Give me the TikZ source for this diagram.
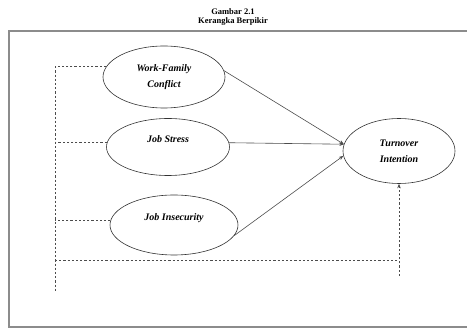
\documentclass[tikz,border=0pt]{standalone}
\usepackage{fontspec}
\setmainfont{Liberation Serif}
\usetikzlibrary{shapes.geometric,arrows.meta}

\begin{document}
\begin{tikzpicture}[x=1pt, y=-1pt,
    var/.style={shape=ellipse, draw=black!80, line width=0.6pt, align=center,
        font=\fontsize{10}{16}\selectfont\bfseries\itshape, inner sep=1pt},
    path/.style={draw=black!70, line width=0.6pt},
    dashpath/.style={draw=black!70, line width=0.7pt, dash pattern=on 2.2pt off 2pt},
    >={Stealth[length=4.5pt, width=3.5pt]}]
    \useasboundingbox (0,0) rectangle (467,328);

    % Frame of the page
    \draw[black!45, line width=1.6pt] (467,31) -- (9,31) -- (9,327) -- (467,327);

    % Title
    \node[font=\fontsize{8.5}{9}\selectfont\bfseries, inner sep=0pt] (title1) at (233,12) {Gambar 2.1};
    \node[font=\fontsize{8.5}{9}\selectfont\bfseries, inner sep=0pt] (title2) at (233,21) {Kerangka Berpikir};

    % Draw nodes
    \node[var, minimum width=122, minimum height=62] (wfc) at (164,77) {Work-Family\\Conflict};
    \node[var, minimum width=123, minimum height=57] (js) at (168,147) {Job Stress\\\mbox{}};
    \node[var, minimum width=128, minimum height=60] (ji) at (174,225) {Job Insecurity\\\mbox{}};
    \node[var, minimum width=112, minimum height=65] (to) at (399,151) {Turnover\\Intention};

    % Coordinates for the dashed paths
    \coordinate (dleft) at (55,292);
    \coordinate (dcorner) at (55,260);
    \coordinate (dright) at (399,276);

    % Draw edges
    \draw[path, ->] (wfc.6) -- (to.173);
    \draw[path, ->] (js.4) -- (to.173);
    \draw[path, ->] (ji.-10) -- (to.185);

    % Dashed paths
    \draw[dashpath] (wfc.170) -| (dleft);
    \draw[dashpath] (js.176) -- (js.176 -| dleft);
    \draw[dashpath] (ji.176) -- (ji.176 -| dleft);
    \draw[dashpath] (dcorner) -- (dcorner -| dright);
    \draw[dashpath, ->] (dright) -- (to.south);

\end{tikzpicture}
\end{document}
